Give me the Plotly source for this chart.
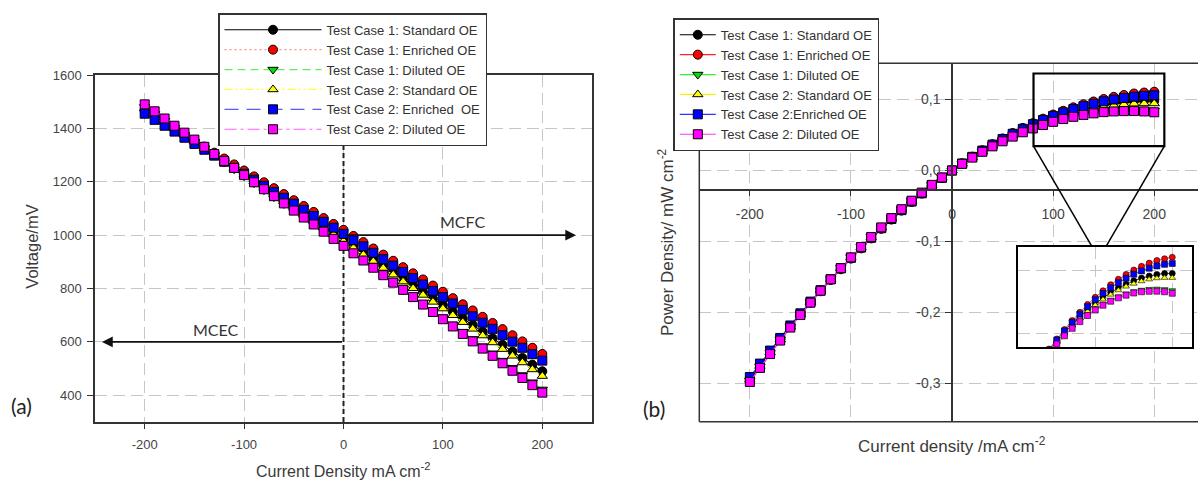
import plotly.graph_objects as go

W, H = 1198, 480

# ---------------- data ----------------
CURRENT = [-200, -190, -180, -170, -160, -150, -140, -130, -120, -110, -100,
           -90, -80, -70, -60, -50, -40, -30, -20, -10, 0,
           10, 20, 30, 40, 50, 60, 70, 80, 90, 100,
           110, 120, 130, 140, 150, 160, 170, 180, 190, 200]

# Voltage (mV), panel (a)
V_TC1_STANDARD = [1470, 1446, 1422, 1397, 1373, 1349, 1324, 1300, 1276, 1252, 1228, 1203, 1179, 1155, 1130, 1106, 1082, 1058, 1034, 1009, 985,
                  960, 936, 911, 886, 861, 836, 812, 787, 762, 738, 713, 688, 663, 638, 614, 589, 564, 540, 515, 490]
V_TC1_ENRICHED = [1465, 1443, 1420, 1398, 1376, 1354, 1332, 1309, 1287, 1265, 1242, 1220, 1198, 1176, 1154, 1131, 1109, 1087, 1064, 1042, 1020,
                  997, 974, 950, 927, 904, 880, 857, 834, 811, 788, 764, 741, 718, 694, 671, 648, 625, 602, 578, 555]
V_TC1_DILUTED = [1480, 1454, 1428, 1402, 1376, 1350, 1325, 1299, 1273, 1247, 1221, 1195, 1169, 1143, 1117, 1092, 1066, 1040, 1014, 988, 962,
                 935, 908, 881, 854, 827, 800, 773, 746, 719, 692, 665, 638, 611, 584, 557, 530, 503, 476, 449, 422]
V_TC2_STANDARD = [1475, 1450, 1425, 1400, 1376, 1351, 1326, 1301, 1276, 1251, 1226, 1202, 1177, 1152, 1127, 1102, 1077, 1053, 1028, 1003, 978,
                  953, 927, 902, 877, 852, 826, 801, 776, 750, 725, 700, 674, 649, 624, 598, 573, 548, 523, 497, 472]
V_TC2_ENRICHED = [1455, 1432, 1410, 1388, 1365, 1342, 1320, 1298, 1275, 1252, 1230, 1208, 1185, 1162, 1140, 1118, 1095, 1072, 1050, 1028, 1005,
                  981, 958, 934, 910, 886, 862, 839, 815, 791, 768, 744, 720, 696, 672, 649, 625, 601, 578, 554, 530]
V_TC2_DILUTED = [1490, 1464, 1437, 1410, 1384, 1358, 1331, 1304, 1278, 1252, 1225, 1198, 1172, 1146, 1119, 1092, 1066, 1040, 1013, 986, 960,
                 932, 905, 878, 850, 822, 795, 768, 740, 712, 685, 658, 630, 602, 575, 548, 520, 492, 465, 438, 410]

# Power density, panel (b)
P_TC1_STANDARD = [-0.2940, -0.2747, -0.2560, -0.2375, -0.2197, -0.2024, -0.1854, -0.1690, -0.1531, -0.1377, -0.1228, -0.1083, -0.0943, -0.0809,
                  -0.0678, -0.0553, -0.0433, -0.0317, -0.0207, -0.0101, 0.0, 0.0096, 0.0187, 0.0273, 0.0354, 0.0431, 0.0502, 0.0568, 0.0630,
                  0.0686, 0.0738, 0.0784, 0.0826, 0.0862, 0.0893, 0.0921, 0.0942, 0.0959, 0.0972, 0.0979, 0.0980]
P_TC1_ENRICHED = [-0.2930, -0.2742, -0.2556, -0.2377, -0.2202, -0.2031, -0.1865, -0.1702, -0.1544, -0.1392, -0.1242, -0.1098, -0.0958, -0.0823,
                  -0.0692, -0.0566, -0.0444, -0.0326, -0.0213, -0.0104, 0.0, 0.0100, 0.0195, 0.0285, 0.0371, 0.0452, 0.0528, 0.0600, 0.0667,
                  0.0730, 0.0788, 0.0840, 0.0889, 0.0933, 0.0972, 0.1007, 0.1037, 0.1063, 0.1084, 0.1098, 0.1110]
P_TC1_DILUTED = [-0.2960, -0.2763, -0.2570, -0.2383, -0.2202, -0.2025, -0.1855, -0.1689, -0.1528, -0.1372, -0.1221, -0.1076, -0.0935, -0.0800,
                 -0.0670, -0.0546, -0.0426, -0.0312, -0.0203, -0.0099, 0.0, 0.0094, 0.0182, 0.0264, 0.0342, 0.0414, 0.0480, 0.0541, 0.0597,
                 0.0647, 0.0692, 0.0732, 0.0766, 0.0794, 0.0818, 0.0836, 0.0848, 0.0855, 0.0857, 0.0853, 0.0844]
P_TC2_STANDARD = [-0.2950, -0.2755, -0.2565, -0.2380, -0.2202, -0.2027, -0.1856, -0.1691, -0.1531, -0.1376, -0.1226, -0.1082, -0.0942, -0.0806,
                  -0.0676, -0.0551, -0.0431, -0.0316, -0.0206, -0.0100, 0.0, 0.0095, 0.0185, 0.0271, 0.0351, 0.0426, 0.0496, 0.0561, 0.0621,
                  0.0675, 0.0725, 0.0770, 0.0809, 0.0844, 0.0874, 0.0897, 0.0917, 0.0932, 0.0941, 0.0944, 0.0944]
P_TC2_ENRICHED = [-0.2910, -0.2721, -0.2538, -0.2360, -0.2184, -0.2013, -0.1848, -0.1687, -0.1530, -0.1377, -0.1230, -0.1087, -0.0948, -0.0813,
                  -0.0684, -0.0559, -0.0438, -0.0322, -0.0210, -0.0103, 0.0, 0.0098, 0.0192, 0.0280, 0.0364, 0.0443, 0.0517, 0.0587, 0.0652,
                  0.0712, 0.0768, 0.0818, 0.0864, 0.0905, 0.0941, 0.0974, 0.1000, 0.1022, 0.1040, 0.1053, 0.1060]
P_TC2_DILUTED = [-0.2980, -0.2782, -0.2587, -0.2397, -0.2214, -0.2037, -0.1863, -0.1695, -0.1534, -0.1377, -0.1225, -0.1078, -0.0938, -0.0802,
                 -0.0671, -0.0546, -0.0426, -0.0312, -0.0203, -0.0099, 0.0, 0.0093, 0.0181, 0.0263, 0.0340, 0.0411, 0.0477, 0.0538, 0.0592,
                 0.0641, 0.0685, 0.0724, 0.0756, 0.0783, 0.0805, 0.0822, 0.0832, 0.0836, 0.0837, 0.0832, 0.0820]

NAMES_A = ["Test Case 1: Standard OE", "Test Case 1: Enriched OE", "Test Case 1: Diluted OE",
           "Test Case 2: Standard OE", "Test Case 2: Enriched\u00a0 OE", "Test Case 2: Diluted OE"]
NAMES_B = ["Test Case 1: Standard OE", "Test Case 1: Enriched OE", "Test Case 1: Diluted OE",
           "Test Case 2: Standard OE", "Test Case 2:Enriched OE", "Test Case 2: Diluted OE"]

X_TICKS = [-200, -100, 0, 100, 200]
X_TICK_TEXT = ["-200", "-100", "0", "100", "200"]
V_TICKS = [400, 600, 800, 1000, 1200, 1400, 1600]
P_TICKS = [-0.3, -0.2, -0.1, 0.0, 0.1]
P_TICK_TEXT = ["-0,3", "-0,2", "-0,1", "0,0", "0,1"]
INSET_X_TICKS = [100, 200]
INSET_Y_TICKS = [0.05, 0.1]

V_SERIES = [V_TC1_STANDARD, V_TC1_ENRICHED, V_TC1_DILUTED, V_TC2_STANDARD, V_TC2_ENRICHED, V_TC2_DILUTED]
P_SERIES = [P_TC1_STANDARD, P_TC1_ENRICHED, P_TC1_DILUTED, P_TC2_STANDARD, P_TC2_ENRICHED, P_TC2_DILUTED]

# ---------------- styles ----------------
MARKER_COLORS = ["#000000", "#ff0000", "#00e000", "#ffff00", "#0000ff", "#ff00ff"]
SYMBOLS = ["circle", "circle", "triangle-down", "triangle-up", "square", "square"]
LINE_A_COLORS = ["#000000", "#ff8c8c", "#5cf05c", "#ffff30", "#5a5aff", "#ff5cff"]
LINE_A_DASH = ["solid", "2px,3px", "8px,5px", "8px,3px,2px,3px,2px,3px", "14px,8px", "12px,4px,3px,4px"]
LINE_B_COLORS = ["#000000", "#ff2020", "#30f030", "#f5f500", "#3030ff", "#ff30ff"]

FONT = "Liberation Sans, Arial, sans-serif"
LABEL_FONT = "Lato, Open Sans, sans-serif"
AX = "#333333"
TICKC = "#444444"
GRID = "#c6c6c6"
GRIDDASH = "12px,6px"


def fx(p):
    return p / W


def fy(p):
    return 1 - p / H


fig = go.Figure()

for i in range(6):
    fig.add_trace(go.Scatter(
        x=CURRENT, y=V_SERIES[i], name=NAMES_A[i], mode="lines+markers",
        xaxis="x", yaxis="y", legend="legend",
        line=dict(color=LINE_A_COLORS[i], width=1.2, dash=LINE_A_DASH[i]),
        marker=dict(symbol=SYMBOLS[i], size=9, color=MARKER_COLORS[i],
                    line=dict(color="black", width=1))))

for i in range(6):
    fig.add_trace(go.Scatter(
        x=CURRENT, y=P_SERIES[i], name=NAMES_B[i], mode="lines+markers",
        xaxis="x2", yaxis="y2", legend="legend2",
        line=dict(color=LINE_B_COLORS[i], width=1.2),
        marker=dict(symbol=SYMBOLS[i], size=9, color=MARKER_COLORS[i],
                    line=dict(color="black", width=1))))

for i in range(6):
    fig.add_trace(go.Scatter(
        x=CURRENT, y=P_SERIES[i], mode="lines+markers", showlegend=False,
        xaxis="x3", yaxis="y3",
        line=dict(color=LINE_B_COLORS[i], width=0.8),
        marker=dict(symbol=SYMBOLS[i], size=6, color=MARKER_COLORS[i],
                    line=dict(color="black", width=0.6))))

# ---------------- axes geometry ----------------
X1_RANGE = [-250, 250]
Y1_RANGE = [300, 1600]
X2_RANGE = [-250, 243.3]
Y2_RANGE = [-0.354, 0.151]
X2_DOM = [fx(699.3), 1.0]
Y2_DOM = [fy(421.7), fy(63.3)]
X_AXIS_CROSS = -0.027   # level of the horizontal axis line in panel (b)
x2_pos = Y2_DOM[0] + (X_AXIS_CROSS - Y2_RANGE[0]) / (Y2_RANGE[1] - Y2_RANGE[0]) * (Y2_DOM[1] - Y2_DOM[0])
y2_pos = X2_DOM[0] + (0 - X2_RANGE[0]) / (X2_RANGE[1] - X2_RANGE[0]) * (X2_DOM[1] - X2_DOM[0])

common = dict(showline=True, linecolor=AX, linewidth=1.5, ticks="outside", tickcolor=AX,
              tickwidth=1, showgrid=True, gridcolor=GRID, gridwidth=1, griddash=GRIDDASH,
              zeroline=False)

fig.update_layout(
    width=W, height=H, template="none",
    margin=dict(l=0, r=0, t=0, b=0),
    paper_bgcolor="white", plot_bgcolor="white",
    font=dict(family=FONT, color=AX),
    xaxis=dict(domain=[fx(95), fx(592)], range=X1_RANGE, anchor="y", tickvals=X_TICKS,
               ticktext=X_TICK_TEXT, mirror=True, ticklen=5, ticklabelstandoff=5,
               tickfont=dict(size=13, color=TICKC), **common),
    yaxis=dict(domain=[fy(422), fy(75)], range=Y1_RANGE, anchor="x", tickvals=V_TICKS,
               mirror=True, ticklen=6, ticklabelstandoff=3,
               tickfont=dict(size=13, color=TICKC), **common),
    xaxis2=dict(domain=X2_DOM, range=X2_RANGE, anchor="free", position=x2_pos, tickvals=X_TICKS,
                ticktext=X_TICK_TEXT, ticklen=6, ticklabelstandoff=6,
                tickfont=dict(size=14, color=TICKC), **common),
    yaxis2=dict(domain=Y2_DOM, range=Y2_RANGE, anchor="free", position=y2_pos, side="left",
                tickvals=P_TICKS, ticktext=P_TICK_TEXT, ticklen=6, ticklabelstandoff=2,
                tickfont=dict(size=14, color=TICKC), **common),
    xaxis3=dict(domain=[fx(1018.3), fx(1192.3)], range=[0, 226], anchor="y3", tickvals=INSET_X_TICKS,
                showticklabels=False, ticks="", showline=True, mirror=True, linecolor="black",
                linewidth=2.2, showgrid=True, gridcolor=GRID, griddash=GRIDDASH, zeroline=False),
    yaxis3=dict(domain=[fy(347.3), fy(247.3)], range=[0.0385, 0.119], anchor="x3", tickvals=INSET_Y_TICKS,
                showticklabels=False, ticks="", showline=True, mirror=True, linecolor="black",
                linewidth=2.2, showgrid=True, gridcolor=GRID, griddash=GRIDDASH, zeroline=False),
    legend=dict(x=fx(218), y=fy(13.3), xanchor="left", yanchor="top", bgcolor="white",
                bordercolor=AX, borderwidth=1.5, itemwidth=97, font=dict(size=13, color=AX)),
    legend2=dict(x=fx(673.3), y=fy(18.3), xanchor="left", yanchor="top", bgcolor="white",
                 bordercolor=AX, borderwidth=1.5, itemwidth=36, font=dict(size=13, color=AX)),
)

shapes = [
    # dashed zero line in panel (a)
    dict(type="line", xref="x", yref="y", x0=0, x1=0, y0=Y1_RANGE[0], y1=Y1_RANGE[1], layer="between",
         line=dict(color="#222222", width=2, dash="5px,3px")),
    # frame of panel (b)
    dict(type="line", xref="x2 domain", yref="y2 domain", x0=0, x1=0, y0=0, y1=1, layer="above",
         line=dict(color=AX, width=1.5)),
    dict(type="line", xref="x2 domain", yref="y2 domain", x0=0, x1=1, y0=1, y1=1, layer="above",
         line=dict(color=AX, width=1.5)),
    dict(type="line", xref="x2 domain", yref="y2 domain", x0=0, x1=1, y0=0, y1=0, layer="above",
         line=dict(color=AX, width=1.5)),
    # zoom box and connectors
    dict(type="rect", xref="x2", yref="y2", x0=80.6, x1=210, y0=0.0342, y1=0.1366,
         line=dict(color="black", width=2.2), layer="above"),
    dict(type="line", xref="x2", yref="y2", x0=80.6, y0=0.0342, x1=138.3, y1=-0.107,
         line=dict(color="black", width=1.5), layer="above"),
    dict(type="line", xref="x2", yref="y2", x0=210, y0=0.0342, x1=152.4, y1=-0.107,
         line=dict(color="black", width=1.5), layer="above"),
]
fig.update_layout(shapes=shapes)


def note(x, y, text, size, family=FONT, color="#3a3a3a", angle=0, xref="paper", yref="paper"):
    return dict(xref=xref, yref=yref, x=x, y=y, text=text, textangle=angle, showarrow=False,
                xanchor="center", yanchor="middle", font=dict(family=family, size=size, color=color))


annotations = [
    # arrows
    dict(xref="x", yref="y", axref="x", ayref="y", x=234, y=1000, ax=0, ay=1000, text="",
         showarrow=True, arrowhead=2, arrowsize=1.2, arrowwidth=1.8, arrowcolor="#111111"),
    dict(xref="x", yref="y", axref="x", ayref="y", x=-243, y=600, ax=0, ay=600, text="",
         showarrow=True, arrowhead=2, arrowsize=1.2, arrowwidth=1.8, arrowcolor="#111111"),
    note(120, 1052, "MCFC", 16, family=LABEL_FONT, color="#333333", xref="x", yref="y"),
    note(-128, 647, "MCEC", 16, family=LABEL_FONT, color="#333333", xref="x", yref="y"),
    # axis titles
    note(fx(31.7), fy(247), "Voltage/mV", 16.5, angle=-90),
    note(fx(343), fy(470), "Current Density mA cm<sup>-2</sup>", 16),
    note(fx(666), fy(242), "Power Density/ mW cm<sup>-2</sup>", 17, angle=-90),
    note(fx(951.5), fy(445), "Current density /mA cm<sup>-2</sup>", 17),
    # panel labels
    note(fx(21), fy(405), "(a)", 21, family=LABEL_FONT, color="#222222"),
    note(fx(654), fy(408), "(b)", 21, family=LABEL_FONT, color="#222222"),
]
fig.update_layout(annotations=annotations)

fig.write_html("out.html")
